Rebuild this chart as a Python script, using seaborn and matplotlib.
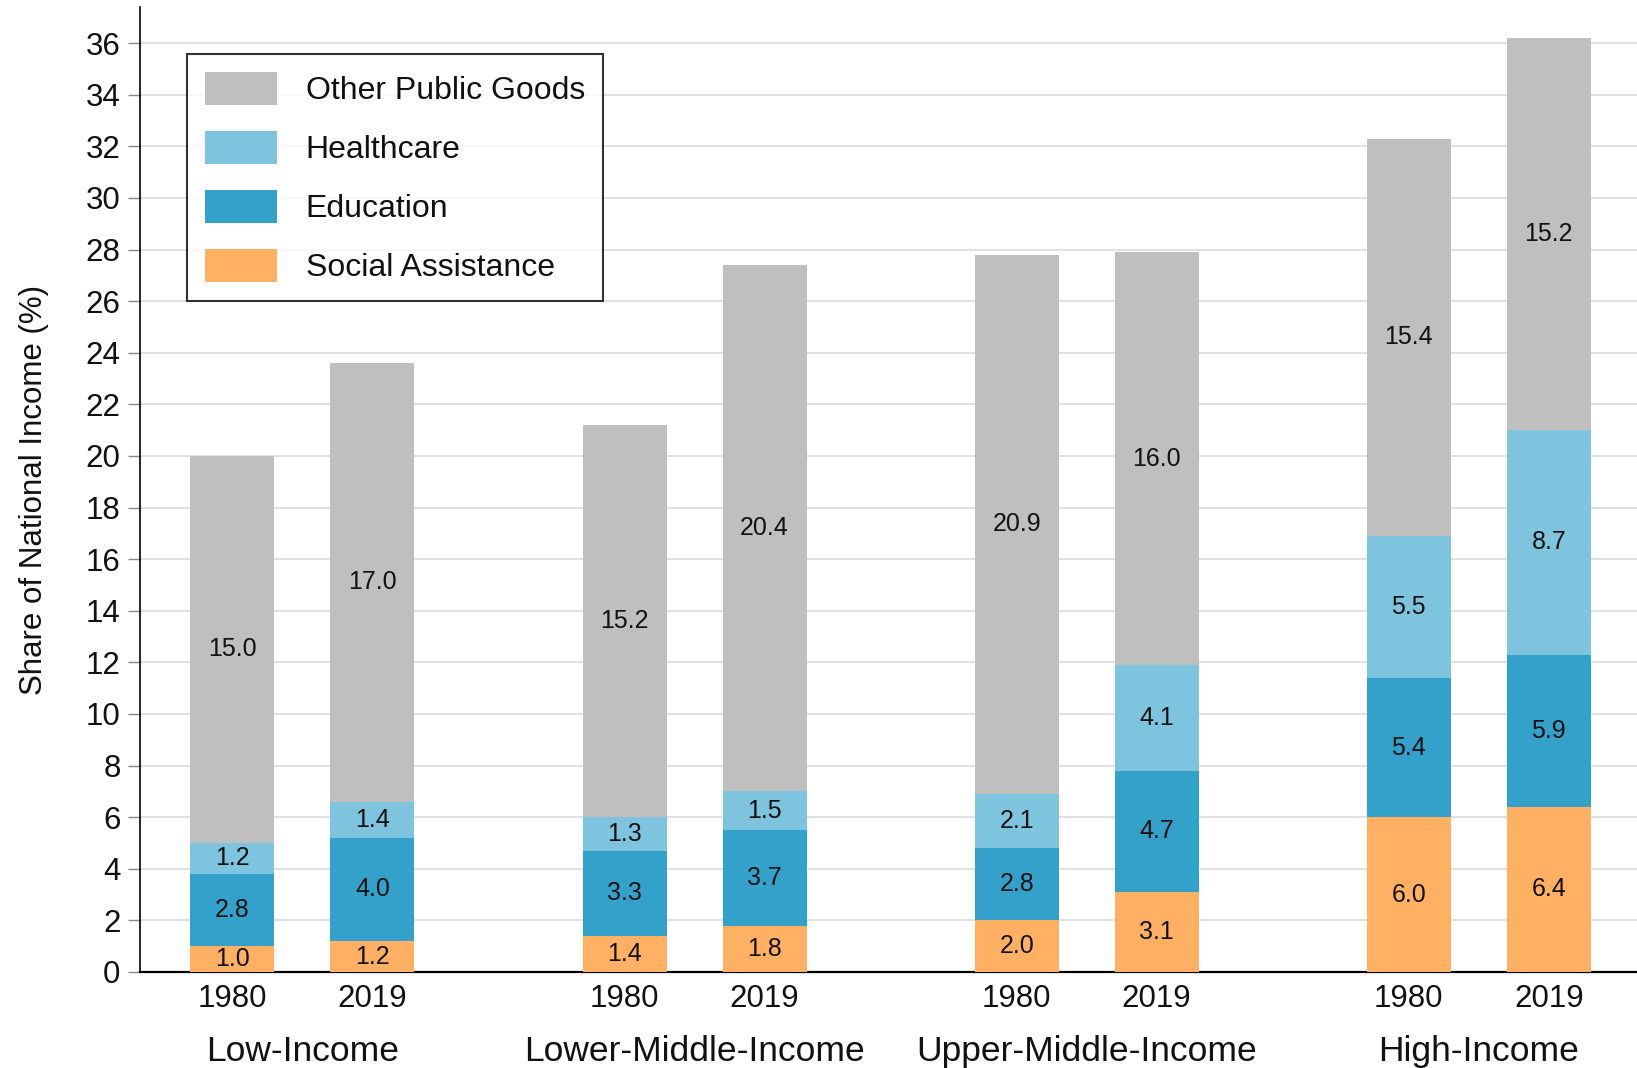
import numpy as np
import pandas as pd
import seaborn as sns
import matplotlib.pyplot as plt
from matplotlib.patches import Patch

# Data (share of national income, %)
groups = ['Low-Income', 'Lower-Middle-Income', 'Upper-Middle-Income', 'High-Income']
years = ['1980', '2019']
social = [1.0, 1.2, 1.4, 1.8, 2.0, 3.1, 6.0, 6.4]
education = [2.8, 4.0, 3.3, 3.7, 2.8, 4.7, 5.4, 5.9]
healthcare = [1.2, 1.4, 1.3, 1.5, 2.1, 4.1, 5.5, 8.7]
other = [15.0, 17.0, 15.2, 20.4, 20.9, 16.0, 15.4, 15.2]

series = ['Social Assistance', 'Education', 'Healthcare', 'Other Public Goods']
colors = {'Social Assistance': '#ffb062', 'Education': '#33a1c9',
          'Healthcare': '#7fc4de', 'Other Public Goods': '#bfbfbf'}

# bar positions: two bars per group, wider gap between groups
group_step = 2.8
pos = [g * group_step + i for g in range(len(groups)) for i in range(len(years))]

df = pd.DataFrame({'x': pos, 'Social Assistance': social, 'Education': education,
                   'Healthcare': healthcare, 'Other Public Goods': other})
cum = df[series].cumsum(axis=1)
for s in series:
    df['top_' + s] = cum[s]
    df['mid_' + s] = cum[s] - df[s] / 2

sns.set_theme(style='white')
plt.rcParams['font.family'] = ['Liberation Sans', 'DejaVu Sans']

fig = plt.figure(figsize=(16.37, 10.68), dpi=100)
ax = fig.add_axes([140 / 1637, 0.0899, 1 - 140 / 1637, 0.9035])

# stacked bars: draw cumulative totals from the top layer down
for s in reversed(series):
    sns.barplot(data=df, x='x', y='top_' + s, color=colors[s], native_scale=True,
                width=0.6, saturation=1, linewidth=0, errorbar=None, ax=ax, zorder=3)

for s in series:
    for x, m, v in zip(df['x'], df['mid_' + s], df[s]):
        ax.text(x, m, f'{v:.1f}', ha='center', va='center', fontsize=18,
                color='#111111', zorder=4)

ax.set_xlim(-0.66, pos[-1] + 0.63)
ax.set_ylim(0, 37.4)
ax.set_yticks(np.arange(0, 37, 2))
ax.set_xticks(pos)
ax.set_xticklabels(years * len(groups))
ax.tick_params(axis='x', length=0, pad=9, labelsize=22.5, colors='#111111')
ax.tick_params(axis='y', length=9, width=1, color='#888888', labelsize=22.5,
               labelcolor='#111111', left=True, pad=5)
ax.set_xlabel('')
ax.set_ylabel('Share of National Income (%)', fontsize=22.5, color='#111111')
ax.yaxis.set_label_coords(-0.061, 0.5)

ax.yaxis.grid(True, color='#dcdcdc', lw=1.2)
ax.set_axisbelow(True)
for side in ['top', 'right']:
    ax.spines[side].set_visible(False)
ax.spines['left'].set_color('black')
ax.spines['left'].set_linewidth(1.2)
ax.spines['bottom'].set_color('black')
ax.spines['bottom'].set_linewidth(1.6)

for g, name in enumerate(groups):
    cx = (pos[2 * g] + pos[2 * g + 1]) / 2
    ax.text(cx, -0.082, name, transform=ax.get_xaxis_transform(), ha='center',
            va='center', fontsize=25.5, color='#111111')

handles = [Patch(facecolor=colors[s], edgecolor='none') for s in reversed(series)]
leg = ax.legend(handles, list(reversed(series)), loc='upper left',
                bbox_to_anchor=(187 / 1637, 1 - 54 / 1068), bbox_transform=fig.transFigure,
                fontsize=23, frameon=True, fancybox=False, handlelength=2.25,
                handleheight=1.2, handletextpad=0.9, labelspacing=0.78,
                borderpad=0.56, borderaxespad=0)
leg.get_frame().set_edgecolor('black')
leg.get_frame().set_linewidth(1.5)
for t in leg.get_texts():
    t.set_color('#111111')

fig.savefig('out.png', dpi=100)
